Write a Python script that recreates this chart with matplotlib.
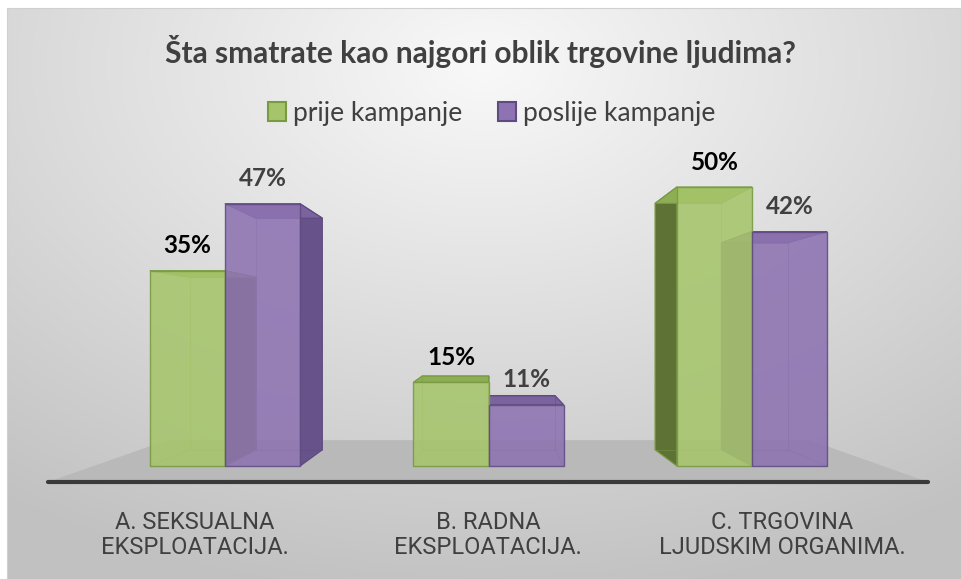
import numpy as np
import matplotlib
matplotlib.use("Agg")
import matplotlib.pyplot as plt
from matplotlib.patches import Polygon, Patch

# data
categories = ["A. SEKSUALNA\nEKSPLOATACIJA.", "B. RADNA\nEKSPLOATACIJA.", "C. TRGOVINA\nLJUDSKIM ORGANIMA."]
series_names = ["prije kampanje", "poslije kampanje"]
prije = [35, 15, 50]
poslije = [47, 11, 42]
title = "Šta smatrate kao najgori oblik trgovine ljudima?"

# colours
green_front = "#a6c56b"
green_side = "#5e7236"
green_top = "#8eae55"
green_edge = "#789a42"
purple_front = "#8d73b1"
purple_side = "#67528a"
purple_top = "#7b649e"
purple_edge = "#5f4b82"
text_col = "#404040"

# fake 3d layout (pixel based)
W, H = 961, 579
px_per_cat = 263.5
cat0_px = 225.0
base_px = 466.0
px_per_pct = 5.58
bar_w = 0.285
VX = (490 - cat0_px) / px_per_cat
VY = (base_px - 327) / px_per_pct
S_BAR = 0.883
S_FLOOR = 0.73
S_FRONT = 0.897

fig = plt.figure(figsize=(W / 100, H / 100), dpi=100)
fig.patch.set_facecolor("white")

# background box with radial gradient
bg = fig.add_axes([7 / W, 0, 1 - 7 / W, 1 - 8 / H])
yy, xx = np.mgrid[0:1:300j, 0:1:500j]
r = np.sqrt(((xx - 0.5) * 1.1) ** 2 + ((yy - 0.1) * 1.0) ** 2)
shade = np.clip(0.975 - 0.23 * r, 0.76, 0.975)
bg.imshow(np.dstack([shade] * 3), extent=[0, 1, 0, 1], origin="upper", aspect="auto")
bg.set_xlim(0, 1)
bg.set_ylim(0, 1)
for sp in bg.spines.values():
    sp.set_color("#d0d0d0")
bg.set_xticks([])
bg.set_yticks([])

ax = fig.add_axes([0, 0, 1, 1])
ax.set_xlim(-cat0_px / px_per_cat, (W - cat0_px) / px_per_cat)
ax.set_ylim(-(H - base_px) / px_per_pct, base_px / px_per_pct)
ax.axis("off")


def proj(x, y, s):
    return VX + (x - VX) * s, VY + (y - VY) * s


# floor
fl_x0 = (48 - cat0_px) / px_per_cat
fl_x1 = (928 - cat0_px) / px_per_cat
fl_y = -(482 - base_px) / px_per_pct
floor = [(fl_x0, fl_y), (fl_x1, fl_y), proj(fl_x1, fl_y, S_FLOOR), proj(fl_x0, fl_y, S_FLOOR)]
ax.add_patch(Polygon(floor, closed=True, facecolor="#b9b9b9", edgecolor="none", zorder=1))
ax.plot([fl_x0, fl_x1], [fl_y, fl_y], color="#3a3a3a", lw=3, solid_capstyle="round", zorder=1.5)


def draw_bar(x0, x1, v, front, side, top, edge):
    fr = [(x0, 0), (x1, 0), (x1, v), (x0, v)]
    bk = [proj(px, py, S_BAR) for px, py in fr]
    if x1 < VX:
        sd = [fr[1], fr[2], bk[2], bk[1]]
    else:
        sd = [fr[0], fr[3], bk[3], bk[0]]
    ax.add_patch(Polygon(sd, closed=True, facecolor=side, edgecolor=edge, lw=0.8, zorder=2))
    tp = [fr[3], fr[2], bk[2], bk[3]]
    ax.add_patch(Polygon(tp, closed=True, facecolor=top, edgecolor=edge, lw=0.8, zorder=2.1))
    ax.add_patch(Polygon(bk, closed=True, facecolor="none", edgecolor=edge, lw=0.7, alpha=0.45, zorder=2.2))
    for a, b in zip(fr, bk):
        ax.plot([a[0], b[0]], [a[1], b[1]], color=edge, lw=0.7, alpha=0.45, zorder=2.2)
    return fr


for i in range(len(categories)):
    g = draw_bar(i - bar_w, i, prije[i], green_front, green_side, green_top, green_edge)
    p = draw_bar(i, i + bar_w, poslije[i], purple_front, purple_side, purple_top, purple_edge)
    ax.add_patch(Polygon(g, closed=True, facecolor=green_front, edgecolor=green_edge, lw=1, alpha=0.88, zorder=3))
    ax.add_patch(Polygon(p, closed=True, facecolor=purple_front, edgecolor=purple_edge, lw=1, alpha=0.88, zorder=3))
    ax.annotate(f"{prije[i]}%", (i - bar_w / 2, prije[i]), xytext=(0, 18), textcoords="offset points",
                ha="center", va="center", fontsize=17.5, fontweight="bold", color="black",
                family=["Lato", "DejaVu Sans"], zorder=5)
    ax.annotate(f"{poslije[i]}%", (i + bar_w / 2, poslije[i]), xytext=(0, 18), textcoords="offset points",
                ha="center", va="center", fontsize=17.5, fontweight="bold", color=text_col,
                family=["Lato", "DejaVu Sans"], zorder=5)
    lx = VX + (i - VX) / S_FRONT
    ax.text(lx, -(535 - base_px) / px_per_pct, categories[i], ha="center", va="center",
            fontsize=17, color=text_col, linespacing=1.15,
            family=["Roboto", "DejaVu Sans"], zorder=5)

fig.text(0.5, 1 - 52 / H, title, ha="center", va="center", fontsize=21.5, fontweight="bold",
         color=text_col, family=["Lato", "DejaVu Sans"])

handles = [Patch(facecolor=green_front, edgecolor=green_edge, lw=1.5),
           Patch(facecolor=purple_front, edgecolor=purple_edge, lw=1.5)]
leg = fig.legend(handles, series_names, loc="center", bbox_to_anchor=(0.5 + 11 / W, 1 - 113 / H), ncol=2,
                 frameon=False, handlelength=0.7, handleheight=0.7, handletextpad=0.25,
                 columnspacing=1.35, prop={"family": ["Lato", "DejaVu Sans"], "size": 19})
for t in leg.get_texts():
    t.set_color(text_col)

fig.savefig("out.png", dpi=100)
